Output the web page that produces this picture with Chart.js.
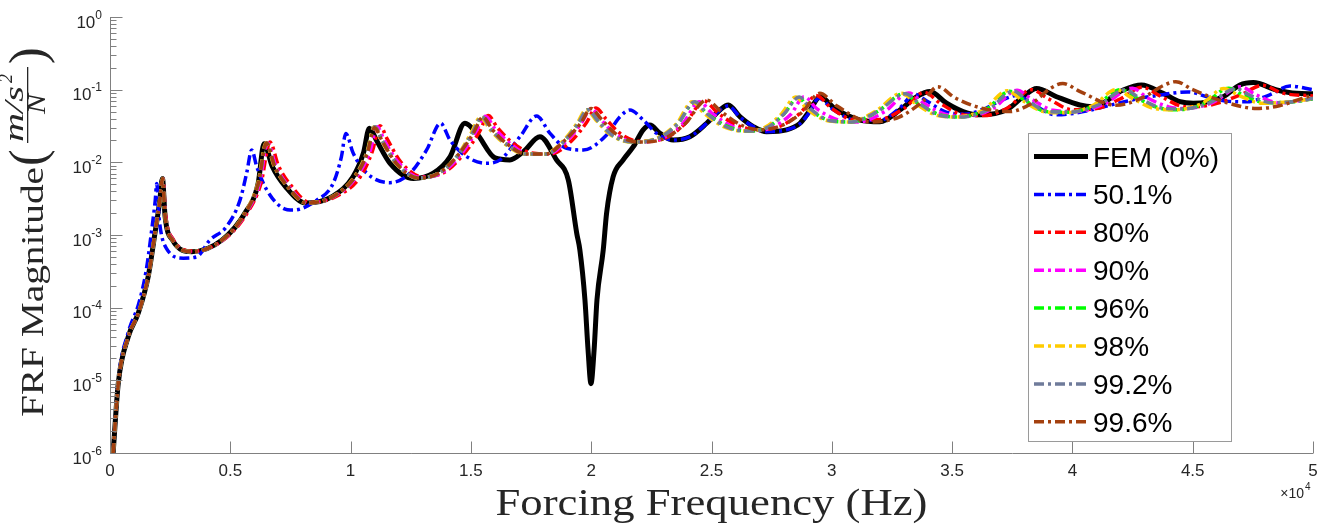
<!DOCTYPE html>
<html><head><meta charset="utf-8">
<script src="https://cdn.jsdelivr.net/npm/chart.js@4.4.1/dist/chart.umd.min.js"></script>
<style>html,body{margin:0;padding:0;background:#fff;}#wrap{width:1326px;height:527px;position:relative;}</style>
</head><body><div id="wrap"><canvas id="c" width="1326" height="527"></canvas></div>
<script>
// ---- data (frequency in Hz, FRF magnitude in (m/s^2)/N) ----
const seriesLabels = ['FEM (0%)','50.1%','80%','90%','96%','98%','99.2%','99.6%'];
const xTickValues = [0,5000,10000,15000,20000,25000,30000,35000,40000,45000,50000];
const xTickLabels = ['0','0.5','1','1.5','2','2.5','3','3.5','4','4.5','5'];
const yDecades = [-6,-5,-4,-3,-2,-1,0];

const femF = [130,345,760,1180,1590,1870,2060,2180,2290,2600,3400,4650,5610,6160,6400,6750,7300,8140,9250,10100,10530,10780,11080,11640,12610,13440,14140,14750,15240,16000,16620,17180,17870,18560,19050,19400,19530,19740,19870,19990,20120,20240,20500,20640,20910,21330,21750,22160,22440,22860,23410,24100,24800,25350,25700,26180,26740,27290,28120,28680,29100,29510,30130,31170,32000,32830,33530,34080,34770,35460,36160,37270,37950,38510,39340,40310,40850,42110,42870,43770,44470,45020,46270,46960,47520,48490,49320,50000];
const femM = [1.0e-6,9.2e-6,4.0e-5,8.5e-5,2.7e-4,1.07e-3,2.8e-3,6.0e-3,1.8e-3,8.5e-4,5.9e-4,8.5e-4,2.0e-3,5.2e-3,1.8e-2,8.7e-3,4.6e-3,2.75e-3,3.4e-3,6.3e-3,1.33e-2,2.95e-2,2.0e-2,9.7e-3,6.0e-3,7.1e-3,1.2e-2,3.45e-2,2.5e-2,1.15e-2,1.08e-2,1.4e-2,2.25e-2,1.08e-2,5.7e-3,1.05e-3,6.2e-4,1.28e-4,2.6e-5,9.0e-6,2.6e-5,1.28e-4,6.2e-4,2.0e-3,6.3e-3,1.08e-2,1.64e-2,2.8e-2,3.27e-2,2.5e-2,2.03e-2,2.25e-2,3.45e-2,5.25e-2,6.15e-2,4.25e-2,3.1e-2,2.64e-2,2.8e-2,3.45e-2,5.25e-2,8.0e-2,5.5e-2,3.83e-2,3.63e-2,5.25e-2,8.0e-2,9.4e-2,6.5e-2,5.0e-2,4.5e-2,5.3e-2,8.0e-2,0.104,8.0e-2,6.15e-2,5.83e-2,9.9e-2,0.116,8.9e-2,6.84e-2,6.5e-2,8.0e-2,0.116,0.125,9.9e-2,8.9e-2,8.8e-2];

const blueF = [130,345,760,1180,1500,1750,1880,1940,2050,2350,3050,3600,4150,4840,5400,5680,5890,6100,6510,7200,7620,8580,9270,9620,9800,10110,10670,11640,12470,13160,13740,14130,14820,15650,16210,17040,17730,18290,18980,19670,20640,21200,21610,22160,22720,23410,24100,24800,25350,25700,26180,26740,27290,28120,28680,29100,29450,30100,31000,32000,32800,33450,34000,34700,35500,36300,37000,37700,38300,39300,40200,41300,42300,43500,44800,45700,46500,47250,48200,49040,50000];
const blueM = [1.0e-6,1.0e-5,4.6e-5,1.1e-4,3.2e-4,1.3e-3,3.0e-3,5.1e-3,1.6e-3,6.5e-4,4.8e-4,5.0e-4,8.5e-4,1.3e-3,3.0e-3,7.1e-3,1.48e-2,8.7e-3,4.2e-3,2.33e-3,2.2e-3,3.0e-3,5.1e-3,1.2e-2,2.5e-2,1.33e-2,7.1e-3,5.25e-3,7.1e-3,1.48e-2,3.45e-2,2.03e-2,1.2e-2,9.7e-3,1.08e-2,2.25e-2,4.34e-2,2.5e-2,1.56e-2,1.48e-2,2.38e-2,4.25e-2,5.25e-2,3.83e-2,2.5e-2,2.03e-2,2.25e-2,3.45e-2,5.25e-2,6.0e-2,4.2e-2,3.1e-2,2.64e-2,2.8e-2,3.4e-2,5.0e-2,7.6e-2,5.2e-2,3.8e-2,3.8e-2,5.5e-2,8.6e-2,6.8e-2,5.0e-2,4.6e-2,5.4e-2,7.0e-2,8.3e-2,6.5e-2,4.5e-2,4.8e-2,5.8e-2,7.0e-2,8.3e-2,9.3e-2,7.8e-2,6.9e-2,6.8e-2,8.5e-2,0.112,0.1];

const redF = [130,345,760,1180,1590,1870,2070,2200,2310,2620,3450,4700,5700,6280,6650,7000,7550,8300,9400,10400,10900,11220,11520,12100,13000,13900,14700,15350,15720,16100,16700,17500,18300,19200,19800,20200,20600,21200,22000,23000,23900,24700,25200,26000,27000,27900,28700,29350,30000,31000,32000,33000,33850,34500,35500,36300,37300,38300,39000,40000,41000,42000,42900,43700,44700,45800,47000,47900,48700,50000];
const redM = [1.0e-6,9.2e-6,4.0e-5,8.5e-5,2.7e-4,1.07e-3,2.8e-3,6.0e-3,1.9e-3,8.8e-4,6.0e-4,8.5e-4,2.0e-3,5.2e-3,1.9e-2,9.0e-3,4.7e-3,2.8e-3,3.4e-3,6.3e-3,1.4e-2,3.2e-2,2.1e-2,1.0e-2,6.3e-3,7.3e-3,1.3e-2,2.6e-2,4.4e-2,3.0e-2,1.9e-2,1.35e-2,1.3e-2,2.0e-2,3.5e-2,5.6e-2,4.0e-2,2.5e-2,1.95e-2,2.1e-2,3.4e-2,7.0e-2,5.0e-2,3.3e-2,2.8e-2,3.2e-2,4.8e-2,8.3e-2,5.5e-2,3.8e-2,3.9e-2,5.5e-2,9.2e-2,6.5e-2,4.5e-2,4.4e-2,5.6e-2,0.1,7.5e-2,5.3e-2,5.5e-2,7.5e-2,0.108,8.0e-2,5.8e-2,6.2e-2,8.5e-2,0.115,9.0e-2,8.2e-2];

const magF = [130,345,760,1180,1590,1870,2060,2190,2300,2610,3420,4680,5650,6220,6550,6900,7450,8220,9320,10250,10800,11100,11400,12000,12900,13800,14600,15200,15600,16000,16600,17400,18200,19000,19600,20000,20400,21000,21900,22900,23800,24500,25000,25800,26600,27500,28300,28850,29400,30300,31100,32200,33200,33800,34700,35600,36700,37700,38300,39200,40100,41300,42500,43100,44000,44700,45800,47000,47600,48600,50000];
const magM = [1.0e-6,9.2e-6,4.0e-5,8.5e-5,2.7e-4,1.07e-3,2.8e-3,6.0e-3,1.85e-3,8.6e-4,5.9e-4,8.5e-4,2.0e-3,5.2e-3,1.85e-2,8.8e-3,4.6e-3,2.75e-3,3.4e-3,6.3e-3,1.4e-2,3.1e-2,2.0e-2,9.8e-3,6.2e-3,7.2e-3,1.3e-2,2.6e-2,4.3e-2,2.9e-2,1.85e-2,1.3e-2,1.3e-2,2.0e-2,3.5e-2,5.5e-2,3.9e-2,2.45e-2,1.9e-2,2.1e-2,3.4e-2,6.8e-2,4.8e-2,3.2e-2,2.7e-2,3.0e-2,4.6e-2,8.0e-2,5.4e-2,3.8e-2,3.6e-2,5.0e-2,9.0e-2,6.6e-2,4.6e-2,4.3e-2,5.5e-2,9.8e-2,7.4e-2,5.2e-2,5.0e-2,6.3e-2,0.105,7.8e-2,5.8e-2,5.5e-2,6.6e-2,0.11,8.6e-2,6.6e-2,7.5e-2];

const greenF = [130,345,760,1180,1590,1870,2060,2180,2290,2600,3400,4650,5620,6170,6500,6850,7400,8180,9280,10180,10700,11000,11300,11900,12800,13700,14500,15050,15450,15850,16450,17300,18100,18900,19450,19850,20250,20850,21700,22700,23600,24300,24800,25600,26400,27300,28000,28600,29100,30000,30800,31900,33000,33600,34500,35300,36400,37400,38000,38900,39800,41000,42000,42700,43600,44400,45500,46500,47100,48100,49200,50000];
const greenM = [1.0e-6,9.2e-6,4.0e-5,8.5e-5,2.7e-4,1.07e-3,2.8e-3,6.0e-3,1.8e-3,8.5e-4,5.9e-4,8.5e-4,2.0e-3,5.2e-3,1.85e-2,8.7e-3,4.6e-3,2.75e-3,3.4e-3,6.3e-3,1.4e-2,3.1e-2,2.0e-2,9.7e-3,6.1e-3,7.2e-3,1.3e-2,2.5e-2,4.2e-2,2.8e-2,1.8e-2,1.3e-2,1.3e-2,2.0e-2,3.4e-2,5.3e-2,3.8e-2,2.4e-2,1.9e-2,2.1e-2,3.4e-2,6.7e-2,4.7e-2,3.2e-2,2.7e-2,3.0e-2,4.6e-2,7.8e-2,5.3e-2,3.7e-2,3.6e-2,5.0e-2,8.8e-2,6.4e-2,4.5e-2,4.2e-2,5.3e-2,9.5e-2,7.2e-2,5.0e-2,4.9e-2,6.2e-2,0.1,7.6e-2,5.6e-2,5.3e-2,6.5e-2,0.105,8.4e-2,6.6e-2,6.8e-2,7.5e-2];

const yelF = [130,345,760,1180,1590,1870,2060,2180,2290,2600,3400,4650,5600,6150,6480,6830,7380,8160,9260,10150,10680,10980,11280,11880,12780,13680,14480,15000,15400,15800,16400,17250,18050,18850,19400,19800,20200,20800,21650,22650,23550,24200,24700,25500,26300,27200,27900,28500,29000,29900,30700,31800,32900,33500,34400,35200,36300,37300,37900,38800,39700,40900,41800,42500,43400,44300,45400,46300,46900,47900,49000,50000];
const yelM = [1.0e-6,9.2e-6,4.0e-5,8.5e-5,2.7e-4,1.07e-3,2.8e-3,6.0e-3,1.8e-3,8.5e-4,5.9e-4,8.5e-4,2.0e-3,5.2e-3,1.85e-2,8.7e-3,4.6e-3,2.75e-3,3.4e-3,6.3e-3,1.4e-2,3.1e-2,2.0e-2,9.7e-3,6.1e-3,7.2e-3,1.3e-2,2.5e-2,4.2e-2,2.8e-2,1.8e-2,1.3e-2,1.3e-2,2.0e-2,3.4e-2,5.3e-2,3.8e-2,2.4e-2,1.9e-2,2.1e-2,3.4e-2,6.8e-2,4.7e-2,3.1e-2,2.7e-2,3.0e-2,4.6e-2,7.9e-2,5.3e-2,3.7e-2,3.6e-2,5.0e-2,8.9e-2,6.4e-2,4.4e-2,4.2e-2,5.3e-2,9.7e-2,7.2e-2,5.0e-2,4.8e-2,6.2e-2,0.1,7.6e-2,5.5e-2,5.3e-2,6.5e-2,0.104,8.4e-2,6.5e-2,6.8e-2,7.5e-2];

const grayF = [130,345,760,1180,1590,1870,2060,2180,2290,2600,3400,4650,5620,6170,6500,6850,7400,8180,9280,10180,10700,11000,11300,11900,12800,13700,14500,15050,15450,15850,16450,17300,18100,18900,19450,19850,20250,20850,21700,22700,23600,24300,24800,25600,26400,27300,28000,28650,29150,30000,30800,31900,33050,33650,34500,35300,36500,37550,38100,39000,39900,41100,42200,42800,43700,44500,45700,46800,47400,48300,49300,50000];
const grayM = [1.0e-6,9.2e-6,4.0e-5,8.5e-5,2.7e-4,1.07e-3,2.8e-3,6.0e-3,1.8e-3,8.5e-4,5.9e-4,8.5e-4,2.0e-3,5.2e-3,1.85e-2,8.7e-3,4.6e-3,2.75e-3,3.4e-3,6.3e-3,1.4e-2,3.1e-2,2.0e-2,9.7e-3,6.1e-3,7.2e-3,1.3e-2,2.5e-2,4.2e-2,2.8e-2,1.8e-2,1.3e-2,1.3e-2,2.0e-2,3.4e-2,5.3e-2,3.8e-2,2.4e-2,1.9e-2,2.1e-2,3.4e-2,6.8e-2,4.7e-2,3.1e-2,2.7e-2,3.0e-2,4.6e-2,7.9e-2,5.3e-2,3.7e-2,3.6e-2,5.0e-2,8.8e-2,6.4e-2,4.4e-2,4.2e-2,5.3e-2,9.6e-2,7.2e-2,5.0e-2,4.9e-2,6.2e-2,0.1,7.6e-2,5.6e-2,5.4e-2,6.6e-2,0.103,8.3e-2,6.6e-2,6.9e-2,7.6e-2];

const brownF = [130,345,760,1180,1590,1870,2060,2180,2290,2600,3400,4650,5620,6170,6500,6850,7400,8180,9280,10180,10700,11000,11300,11900,12800,13700,14500,15100,15500,15900,16500,17300,18100,18900,19550,20000,20400,21000,22000,23000,23900,24800,25400,26200,27000,28000,28800,29500,30200,31600,32800,33800,34400,35100,36200,37400,38400,39100,39600,40300,41800,43000,43800,44300,45000,46500,47660,48600,49400,50000];
const brownM = [1.0e-6,9.2e-6,4.0e-5,8.5e-5,2.7e-4,1.07e-3,2.8e-3,6.0e-3,1.8e-3,8.5e-4,5.9e-4,8.5e-4,2.0e-3,5.2e-3,1.85e-2,8.7e-3,4.6e-3,2.75e-3,3.4e-3,6.3e-3,1.35e-2,3.0e-2,2.0e-2,9.7e-3,6.1e-3,7.2e-3,1.3e-2,2.5e-2,4.2e-2,2.8e-2,1.8e-2,1.3e-2,1.3e-2,2.0e-2,3.4e-2,5.5e-2,4.0e-2,2.5e-2,1.9e-2,2.1e-2,3.4e-2,7.2e-2,5.0e-2,3.3e-2,2.8e-2,3.3e-2,5.0e-2,8.9e-2,6.0e-2,3.6e-2,4.2e-2,7.0e-2,0.11,7.8e-2,5.6e-2,5.0e-2,6.8e-2,0.105,0.122,9.5e-2,6.1e-2,8.0e-2,0.115,0.129,0.1,6.5e-2,5.5e-2,6.0e-2,7.3e-2,8.5e-2];

const seriesColors = ['#000000','#0000ff','#ff0000','#ff00ff','#00ff00','#ffcc00','#6f7b9a','#a3400f'];

// ---- build ----
function pts(f, m) { return f.map((v, i) => ({ x: v, y: m[i] })); }
const freqs = [femF, blueF, redF, magF, greenF, yelF, grayF, brownF];
const mags = [femM, blueM, redM, magM, greenM, yelM, grayM, brownM];
const dashDot = [10, 4, 3, 4];

const datasets = seriesLabels.map((lab, i) => ({
  label: lab,
  data: pts(freqs[i], mags[i]),
  borderColor: seriesColors[i],
  backgroundColor: seriesColors[i],
  borderWidth: i === 0 ? 5 : 3.5,
  borderDash: i === 0 ? [] : dashDot,
  pointRadius: 0,
  fill: false,
  cubicInterpolationMode: 'monotone',
  order: 7 - i
}));

function stretchText(ctx, txt, x, y, targetW, align) {
  const w = ctx.measureText(txt).width;
  const s = targetW / w;
  ctx.save();
  ctx.translate(x, y);
  ctx.scale(s, 1);
  ctx.textAlign = 'left';
  const off = align === 'center' ? -w / 2 : (align === 'right' ? -w : 0);
  ctx.fillText(txt, off, 0);
  ctx.restore();
}

const decor = {
  id: 'decor',
  afterDatasetsDraw(chart) {
    const ctx = chart.ctx, a = chart.chartArea, xs = chart.scales.x, ys = chart.scales.y;
    ctx.save();
    ctx.strokeStyle = '#808080'; ctx.lineWidth = 1; ctx.setLineDash([]);
    const L = Math.round(a.left) + 0.5, B = Math.round(a.bottom) + 0.5;
    ctx.beginPath();
    ctx.moveTo(L, a.top); ctx.lineTo(L, B); ctx.lineTo(a.right, B);
    xTickValues.forEach(v => { const px = Math.round(xs.getPixelForValue(v)) + 0.5; ctx.moveTo(px, B); ctx.lineTo(px, B - 12); });
    yDecades.forEach(k => {
      for (let m = 1; m <= 9; m++) {
        if (k === 0 && m > 1) break;
        const py = Math.round(ys.getPixelForValue(m * Math.pow(10, k))) + 0.5;
        ctx.moveTo(L, py); ctx.lineTo(L + (m === 1 ? 12 : 6), py);
      }
    });
    ctx.stroke();
    ctx.restore();
  },
  afterDraw(chart) {
    const ctx = chart.ctx, a = chart.chartArea, xs = chart.scales.x, ys = chart.scales.y;
    ctx.save();
    ctx.fillStyle = '#262626';
    // x tick labels
    ctx.font = '17px "Liberation Sans", Arial, sans-serif';
    ctx.textAlign = 'center'; ctx.textBaseline = 'alphabetic';
    xTickValues.forEach((v, i) => { ctx.fillText(xTickLabels[i], xs.getPixelForValue(v), 476); });
    // y tick labels 10^k
    yDecades.forEach(k => {
      const py = ys.getPixelForValue(Math.pow(10, k));
      const exp = String(k);
      ctx.font = '17px "Liberation Sans", Arial, sans-serif';
      const w1 = ctx.measureText('10').width;
      ctx.font = '12px "Liberation Sans", Arial, sans-serif';
      const w2 = ctx.measureText(exp).width;
      const right = 102;
      ctx.textAlign = 'left';
      ctx.font = '17px "Liberation Sans", Arial, sans-serif';
      ctx.fillText('10', right - w1 - w2, py + 10.5);
      ctx.font = '12px "Liberation Sans", Arial, sans-serif';
      ctx.fillText(exp, right - w2, py + 1.5);
    });
    // x10^4 multiplier
    ctx.font = '14px "Liberation Sans", Arial, sans-serif';
    ctx.textAlign = 'right';
    ctx.fillText('\u00d710', 1304, 498);
    ctx.font = '10px "Liberation Sans", Arial, sans-serif';
    ctx.textAlign = 'left';
    ctx.fillText('4', 1305, 490);

    // x axis title
    ctx.fillStyle = '#262626';
    ctx.font = '37px "Liberation Serif", "Times New Roman", serif';
    ctx.textBaseline = 'alphabetic';
    stretchText(ctx, 'Forcing Frequency (Hz)', (a.left + a.right) / 2, 515, 432, 'center');

    // y axis title (rotated) with fraction
    ctx.save();
    ctx.translate(0, 235);
    ctx.rotate(-Math.PI / 2);
    ctx.font = '32px "Liberation Serif", "Times New Roman", serif';
    stretchText(ctx, 'FRF Magnitude', -182, 43, 250, 'left');
    ctx.font = '50px "Liberation Serif", "Times New Roman", serif';
    ctx.fillText('(', 69, 44);
    ctx.fillText(')', 171, 44);
    ctx.font = 'italic 28px "Liberation Serif", "Times New Roman", serif';
    ctx.textAlign = 'left';
    stretchText(ctx, 'm/s', 93, 23, 56, 'left');
    ctx.font = 'italic 18px "Liberation Serif", "Times New Roman", serif';
    ctx.fillText('2', 152, 12);
    ctx.font = 'italic 26px "Liberation Serif", "Times New Roman", serif';
    stretchText(ctx, 'N', 131, 45, 20, 'center');
    ctx.fillRect(92, 27, 76, 1.3);
    ctx.restore();

    // legend
    const bx = 1028, by = 133, bw = 203, bh = 308;
    ctx.fillStyle = '#ffffff';
    ctx.fillRect(bx, by, bw, bh);
    ctx.strokeStyle = '#9a9a9a'; ctx.lineWidth = 1; ctx.setLineDash([]);
    ctx.strokeRect(bx + 0.5, by + 0.5, bw, bh);
    seriesLabels.forEach((lab, i) => {
      const cy = 156.5 + i * 37.9;
      ctx.save();
      ctx.strokeStyle = seriesColors[i];
      ctx.lineWidth = i === 0 ? 5 : 3.5;
      ctx.setLineDash(i === 0 ? [] : dashDot);
      ctx.beginPath(); ctx.moveTo(1034, cy); ctx.lineTo(1088, cy); ctx.stroke();
      ctx.restore();
      ctx.fillStyle = '#000000';
      ctx.font = '28px "Liberation Sans", Arial, sans-serif';
      ctx.textAlign = 'left'; ctx.textBaseline = 'alphabetic';
      ctx.fillText(lab, 1093, cy + 10);
    });
    ctx.restore();
  }
};

new Chart(document.getElementById('c'), {
  type: 'line',
  data: { datasets },
  options: {
    responsive: false,
    animation: false,
    devicePixelRatio: 1,
    layout: { padding: { left: 0, right: 13, top: 17, bottom: 0 } },
    plugins: { legend: { display: false }, tooltip: { enabled: false } },
    scales: {
      x: {
        type: 'linear', min: 0, max: 50000,
        ticks: { display: false, stepSize: 5000 },
        grid: { display: false, drawTicks: false },
        border: { display: false },
        afterFit: s => { s.height = 74; }
      },
      y: {
        type: 'logarithmic', min: 1e-6, max: 1,
        ticks: { display: false },
        grid: { display: false, drawTicks: false },
        border: { display: false },
        afterFit: s => { s.width = 110; }
      }
    }
  },
  plugins: [decor]
});
</script>
</body></html>
